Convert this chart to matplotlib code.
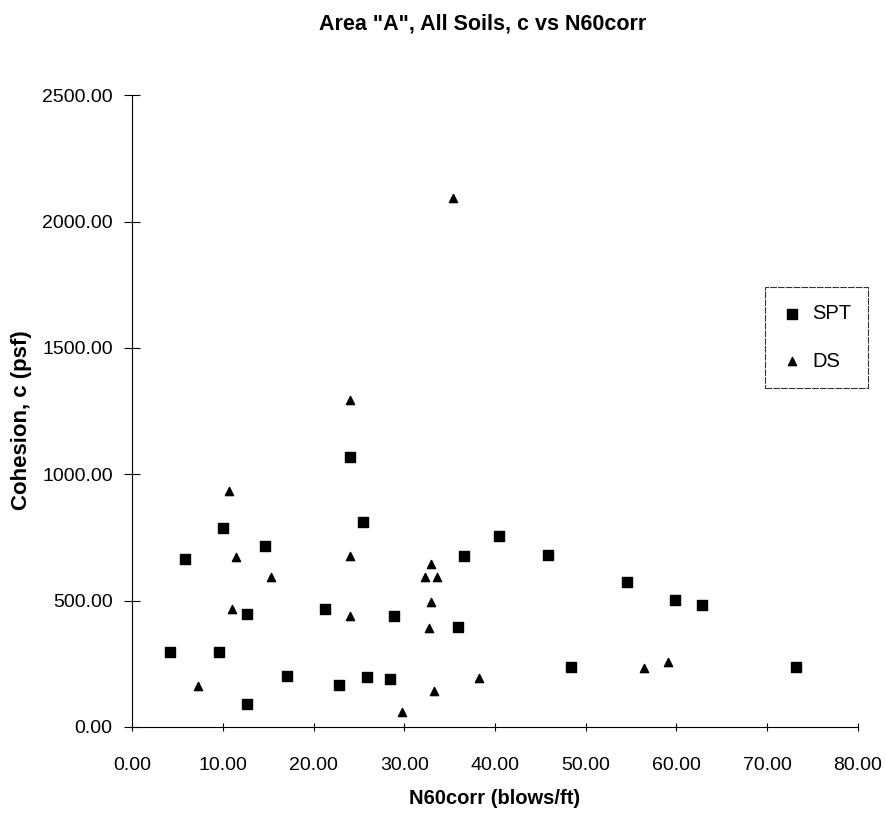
import numpy as np
import matplotlib.pyplot as plt

plt.rcParams['font.family'] = ['Liberation Sans', 'DejaVu Sans']

# SPT data (N60corr, cohesion)
spt_n = [4.2, 5.8, 10.0, 9.6, 12.7, 12.7, 14.7, 17.1, 21.3, 22.8, 24.0, 25.5,
         25.9, 28.4, 28.9, 40.4, 36.6, 45.8, 54.6, 59.9, 62.8, 35.9, 48.4, 73.2]
spt_c = [298, 664, 788, 297, 92, 446, 715, 200, 467, 165, 1067, 810,
         198, 189, 438, 756, 675, 679, 572, 502, 484, 396, 237, 237]

# DS data
ds_n = [24.0, 10.7, 11.4, 24.0, 15.3, 11.0, 24.0, 7.3, 29.8, 33.0,
        32.3, 33.6, 32.9, 32.7, 33.3, 38.2, 56.4, 59.1, 35.4]
ds_c = [1293, 935, 671, 676, 593, 467, 440, 163, 58, 643,
        592, 592, 493, 393, 144, 194, 235, 258, 2094]

fig = plt.figure(figsize=(8.87, 8.14), dpi=100)
ax = fig.add_axes([0.149, 0.107, 0.818, 0.776])

ax.scatter(spt_n, spt_c, marker='s', s=55, color='black', label='SPT', zorder=3)
ax.scatter(ds_n, ds_c, marker='^', s=35, color='black', label='DS', zorder=3)

ax.set_xlim(0, 80)
ax.set_ylim(0, 2500)
ax.set_xticks(np.arange(0, 81, 10))
ax.set_yticks(np.arange(0, 2501, 500))
ax.xaxis.set_major_formatter(plt.FormatStrFormatter('%.2f'))
ax.yaxis.set_major_formatter(plt.FormatStrFormatter('%.2f'))

for s in ['top', 'right']:
    ax.spines[s].set_visible(False)
for s in ['left', 'bottom']:
    ax.spines[s].set_linewidth(0.8)
    ax.spines[s].set_linestyle((0, (6, 1)))

ax.tick_params(axis='y', direction='inout', length=12, width=0.8, labelsize=14, pad=8)
ax.tick_params(axis='x', direction='inout', length=6, width=0.8, labelsize=14, pad=19)

ax.set_xlabel('N60corr (blows/ft)', fontsize=14.5, fontweight='bold')
ax.xaxis.set_label_coords(0.5, -0.098)
ax.set_ylabel('Cohesion, c (psf)', fontsize=16, fontweight='bold')
ax.yaxis.set_label_coords(-0.138, 0.486)

fig.text(0.544, 0.971, 'Area "A", All Soils, c vs N60corr', ha='center', va='center',
         fontsize=15.5, fontweight='bold')

leg = ax.legend(loc='center', bbox_to_anchor=(0.9205, 0.5854), bbox_transform=fig.transFigure,
                frameon=True, fancybox=False, fontsize=14.5, handletextpad=0.5,
                borderpad=0.85, labelspacing=1.4, handlelength=1.0)
leg.get_frame().set_edgecolor('black')
leg.get_frame().set_linewidth(0.8)
leg.get_frame().set_linestyle((0, (6, 1)))

fig.savefig('out.png', dpi=100)
